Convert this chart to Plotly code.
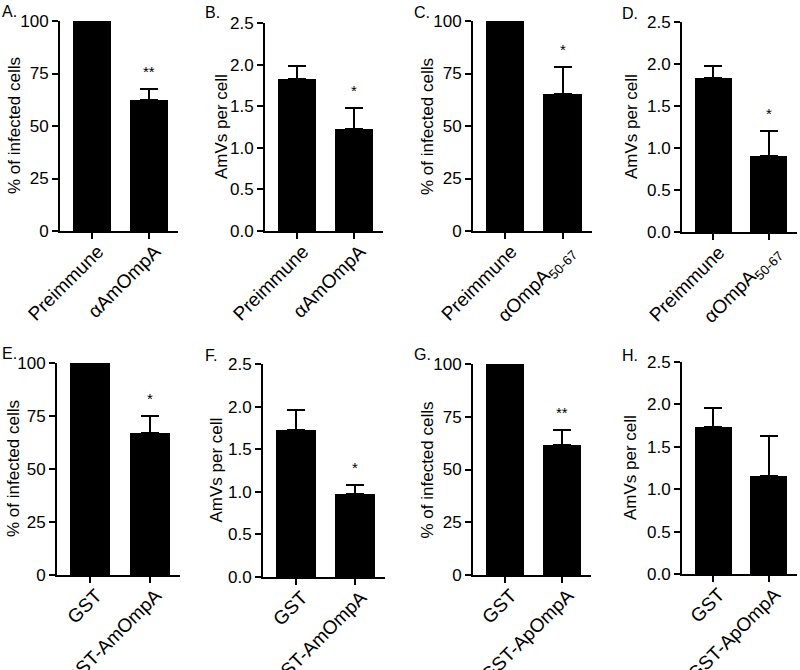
import plotly.graph_objects as go

# ---- data ----
cats_AB = ["Preimmune", "αAmOmpA"]
cats_CD = ["Preimmune", "αOmpA<sub>50-67</sub>"]
cats_EF = ["GST", "GST-AmOmpA"]
cats_GH = ["GST", "GST-ApOmpA"]

A_vals = [100, 62.2]; A_err = [0, 5.5]; A_sig = ["", "**"]
B_vals = [1.83, 1.23]; B_err = [0.15, 0.25]; B_sig = ["", "*"]
C_vals = [100, 65.2]; C_err = [0, 12.8]; C_sig = ["", "*"]
D_vals = [1.83, 0.90]; D_err = [0.15, 0.30]; D_sig = ["", "*"]
E_vals = [100, 66.8]; E_err = [0, 8.2]; E_sig = ["", "*"]
F_vals = [1.73, 0.97]; F_err = [0.23, 0.11]; F_sig = ["", "*"]
G_vals = [100, 61.5]; G_err = [0, 7.2]; G_sig = ["", "**"]
H_vals = [1.73, 1.16]; H_err = [0.23, 0.47]; H_sig = ["", ""]

pct_ticks = [0, 25, 50, 75, 100]
amv_ticks = [0.0, 0.5, 1.0, 1.5, 2.0, 2.5]
pct_title = "% of infected cells"
amv_title = "AmVs per cell"

panels = [
    ("A.", cats_AB, A_vals, A_err, A_sig, "pct"),
    ("B.", cats_AB, B_vals, B_err, B_sig, "amv"),
    ("C.", cats_CD, C_vals, C_err, C_sig, "pct"),
    ("D.", cats_CD, D_vals, D_err, D_sig, "amv"),
    ("E.", cats_EF, E_vals, E_err, E_sig, "pct"),
    ("F.", cats_EF, F_vals, F_err, F_sig, "amv"),
    ("G.", cats_GH, G_vals, G_err, G_sig, "pct"),
    ("H.", cats_GH, H_vals, H_err, H_sig, "amv"),
]

# layout geometry (pixels)
W, H = 800, 670
# (axis left, axis right, top, bottom)
boxes = [
    (60, 178, 21, 231), (265, 383, 23, 231), (473, 592, 21, 231), (682, 797, 22, 232),
    (57, 180, 363, 575), (263, 385, 364, 577), (473, 591, 364, 575), (682, 797, 362, 574),
]
title_x = [14, 221, 427, 631, 14, 216, 427, 630]
letter_pos = [(0, 1), (203, 2), (412, 2), (620, 3), (0, 343), (203, 345), (412, 344), (620, 345)]

FONT = "Liberation Sans, Arial, sans-serif"
fig = go.Figure()
annotations = []
layout = {}
for i, (letter, cats, vals, errs, sigs, kind) in enumerate(panels):
    n = i + 1
    xa = "x" if n == 1 else f"x{n}"
    ya = "y" if n == 1 else f"y{n}"
    fig.add_trace(go.Bar(
        x=[0, 1], y=vals, xaxis=xa, yaxis=ya, width=0.67,
        marker=dict(color="black", line=dict(width=0)),
        error_y=dict(type="data", array=errs, arrayminus=[0, 0], symmetric=False,
                     color="black", thickness=2, width=9),
        showlegend=False, hoverinfo="skip",
    ))
    l, r, t, b = boxes[i]
    xkey = "xaxis" if n == 1 else f"xaxis{n}"
    ykey = "yaxis" if n == 1 else f"yaxis{n}"
    layout[xkey] = dict(
        domain=[l / W, r / W], anchor=ya, range=[-0.56, 1.51], automargin=False,
        tickvals=[0, 1], ticktext=cats, tickangle=-45,
        ticklabelstandoff=-6, ticklabelshift=6,
        showline=True, linecolor="black", linewidth=2,
        ticks="outside", ticklen=6, tickwidth=2, tickcolor="black",
        showgrid=False, zeroline=False, fixedrange=True,
        tickfont=dict(family=FONT, size=19, color="black"),
    )
    if kind == "pct":
        yr = [0, 100]; tv = pct_ticks; tt = [str(v) for v in pct_ticks]; title = pct_title
    else:
        yr = [0, 2.5]; tv = amv_ticks; tt = [f"{v:.1f}" for v in amv_ticks]; title = amv_title
    layout[ykey] = dict(
        domain=[1 - b / H, 1 - t / H], anchor=xa, range=yr, automargin=False,
        tickvals=tv, ticktext=tt,
        showline=True, linecolor="black", linewidth=2,
        ticks="outside", ticklen=6, tickwidth=2, tickcolor="black",
        showgrid=False, zeroline=False, fixedrange=True,
        tickfont=dict(family=FONT, size=17, color="black"),
    )
    annotations.append(dict(
        x=title_x[i] / W, y=1 - (t + b) / 2 / H, xref="paper", yref="paper",
        text=title, textangle=-90, showarrow=False, xanchor="center", yanchor="middle",
        font=dict(family=FONT, size=17, color="black"),
    ))
    for j, s in enumerate(sigs):
        if s:
            annotations.append(dict(
                x=j, y=vals[j] + errs[j], xref=xa, yref=ya, text=s, showarrow=False,
                yanchor="bottom", yshift=7, font=dict(family=FONT, size=15, color="black"),
            ))
    lx, ly = letter_pos[i]
    annotations.append(dict(
        x=lx / W, y=1 - ly / H, xref="paper", yref="paper", text=letter, showarrow=False,
        xanchor="left", yanchor="top", font=dict(family=FONT, size=16, color="black"),
    ))

fig.update_layout(
    width=W, height=H, margin=dict(l=0, r=0, t=0, b=0, autoexpand=False),
    paper_bgcolor="white", plot_bgcolor="white",
    bargap=0, annotations=annotations, **layout,
)
fig.write_html("out.html", config={"displayModeBar": False},
               post_script="document.body.style.margin='0px';")
